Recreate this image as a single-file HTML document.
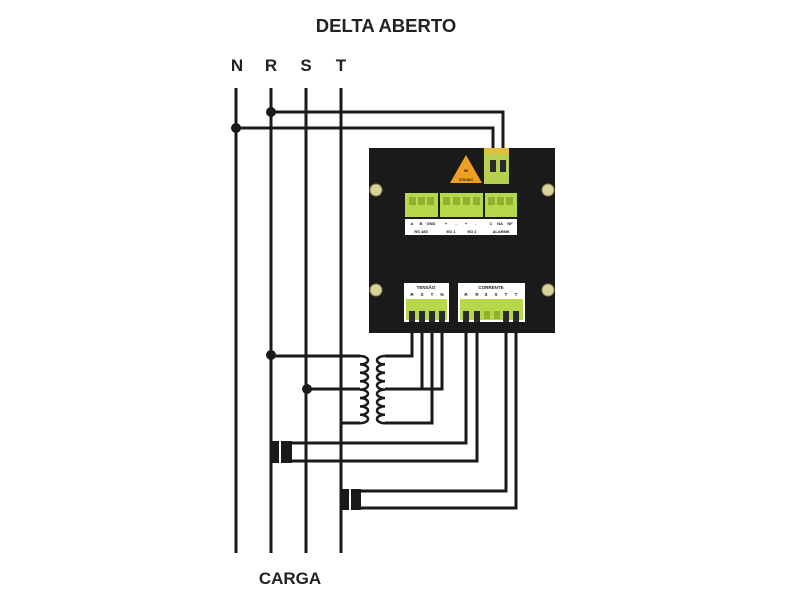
<!DOCTYPE html>
<html><head><meta charset="utf-8"><style>html,body{margin:0;padding:0;background:#fff}svg{display:block}</style></head><body>
<svg width="800" height="600" viewBox="0 0 800 600" xmlns="http://www.w3.org/2000/svg" font-family="Liberation Sans, sans-serif">
<rect width="800" height="600" fill="#fff"/>
<text x="386" y="32" font-size="18.5" font-weight="bold" text-anchor="middle" fill="#222">DELTA ABERTO</text>
<g font-size="17" font-weight="bold" fill="#222" text-anchor="middle">
<text x="237" y="71">N</text><text x="271" y="71">R</text><text x="306" y="71">S</text><text x="341" y="71">T</text>
</g>
<text x="290" y="584" font-size="17" font-weight="bold" text-anchor="middle" fill="#222">CARGA</text>
<g stroke="#1a1a1a" stroke-width="3" fill="none">
<line x1="236" y1="88" x2="236" y2="553"/>
<line x1="271" y1="88" x2="271" y2="553"/>
<line x1="306" y1="88" x2="306" y2="553"/>
<line x1="341" y1="88" x2="341" y2="553"/>
<polyline points="271,112 503,112 503,150"/>
<polyline points="236,128 493,128 493,150"/>
<line x1="271" y1="356" x2="360" y2="356"/>
<line x1="307" y1="389" x2="360" y2="389"/>
<line x1="341" y1="423" x2="360" y2="423"/>
<path d="M360,356 a8,4.2 0 0 1 0,8.4 a8,4.2 0 0 1 0,8.4 a8,4.2 0 0 1 0,8.4 a8,4.2 0 0 1 0,8.4 a8,4.2 0 0 1 0,8.4 a8,4.2 0 0 1 0,8.4 a8,4.2 0 0 1 0,8.4 a8,4.2 0 0 1 0,8.4" stroke-width="2.5"/>
<path d="M385,356 a8,4.2 0 0 0 0,8.4 a8,4.2 0 0 0 0,8.4 a8,4.2 0 0 0 0,8.4 a8,4.2 0 0 0 0,8.4 a8,4.2 0 0 0 0,8.4 a8,4.2 0 0 0 0,8.4 a8,4.2 0 0 0 0,8.4 a8,4.2 0 0 0 0,8.4" stroke-width="2.5"/>
<polyline points="385,356 412,356 412,325"/>
<polyline points="385,389 442,389 442,325"/>
<polyline points="422,325 422,389"/>
<polyline points="385,423 432,423 432,325"/>
<polyline points="291,443 466,443 466,325"/>
<polyline points="291,461 477,461 477,325"/>
<polyline points="360,491 506,491 506,325"/>
<polyline points="360,508 516,508 516,325"/>
</g>
<g fill="#1a1a1a">
<circle cx="236" cy="128" r="5"/><circle cx="271" cy="112" r="5"/>
<circle cx="271" cy="355" r="5"/><circle cx="307" cy="389" r="5"/>
<rect x="270" y="441" width="9" height="22"/><rect x="281" y="441" width="11" height="22"/>
<rect x="340" y="489" width="9" height="21"/><rect x="351" y="489" width="10" height="21"/>
<rect x="369" y="148" width="186" height="185"/>
</g>
<g fill="#d8d39a" stroke="#8a8650" stroke-width="1">
<circle cx="376" cy="190" r="6"/><circle cx="548" cy="190" r="6"/>
<circle cx="376" cy="290" r="6"/><circle cx="548" cy="290" r="6"/>
</g>
<polygon points="466,155 482,183 450,183" fill="#f0a020"/>
<text x="466" y="172" font-size="4" font-weight="bold" text-anchor="middle" fill="#222">90</text>
<text x="466" y="181" font-size="4" font-weight="bold" text-anchor="middle" fill="#222">270VAC</text>
<rect x="484" y="148" width="25" height="36" fill="#b8d050"/>
<rect x="484" y="148" width="25" height="6" fill="#e0c040"/>
<rect x="490" y="160" width="6" height="12" fill="#2a2a2a"/><rect x="500" y="160" width="6" height="12" fill="#2a2a2a"/>
<g fill="#b6d84a">
<rect x="405" y="193" width="33" height="24"/><rect x="440" y="193" width="43" height="24"/><rect x="485" y="193" width="32" height="24"/>
</g>
<g fill="#8fb030">
<rect x="409" y="197" width="7" height="8"/><rect x="418" y="197" width="7" height="8"/><rect x="427" y="197" width="7" height="8"/>
<rect x="443" y="197" width="7" height="8"/><rect x="453" y="197" width="7" height="8"/><rect x="463" y="197" width="7" height="8"/><rect x="473" y="197" width="7" height="8"/>
<rect x="488" y="197" width="7" height="8"/><rect x="497" y="197" width="7" height="8"/><rect x="506" y="197" width="7" height="8"/>
</g>
<rect x="405" y="219" width="112" height="16" fill="#fff"/>
<g font-size="4" font-weight="bold" fill="#222" text-anchor="middle">
<text x="412" y="225">A</text><text x="421" y="225">B</text><text x="431" y="225">GND</text>
<text x="446" y="225">+</text><text x="456" y="225">-</text><text x="466" y="225">+</text><text x="476" y="225">-</text>
<text x="491" y="225">C</text><text x="500" y="225">NA</text><text x="510" y="225">NF</text>
<text x="421" y="233">RS 485</text><text x="451" y="233">ED 1</text><text x="472" y="233">ED 2</text><text x="501" y="233">ALARME</text>
</g>
<rect x="404" y="283" width="45" height="39" fill="#fff"/>
<rect x="458" y="283" width="67" height="39" fill="#fff"/>
<rect x="406" y="299" width="41" height="21" fill="#b6d84a"/>
<rect x="460" y="299" width="63" height="21" fill="#b6d84a"/>
<g font-size="4.5" font-weight="bold" fill="#222" text-anchor="middle">
<text x="426" y="289">TENSÃO</text><text x="491" y="289">CORRENTE</text>
<text x="412" y="296">R</text><text x="422" y="296">S</text><text x="432" y="296">T</text><text x="442" y="296">N</text>
<text x="466" y="296">R</text><text x="477" y="296">R</text><text x="486" y="296">S</text><text x="496" y="296">S</text><text x="506" y="296">T</text><text x="516" y="296">T</text>
</g>
<g fill="#2a2a2a">
<rect x="409" y="311" width="6" height="11"/><rect x="419" y="311" width="6" height="11"/><rect x="429" y="311" width="6" height="11"/><rect x="439" y="311" width="6" height="11"/>
<rect x="463" y="311" width="6" height="11"/><rect x="474" y="311" width="6" height="11"/><rect x="503" y="311" width="6" height="11"/><rect x="513" y="311" width="6" height="11"/>
</g>
<g fill="#8fb030"><rect x="484" y="311" width="6" height="8"/><rect x="494" y="311" width="6" height="8"/></g>
</svg>
</body></html>
